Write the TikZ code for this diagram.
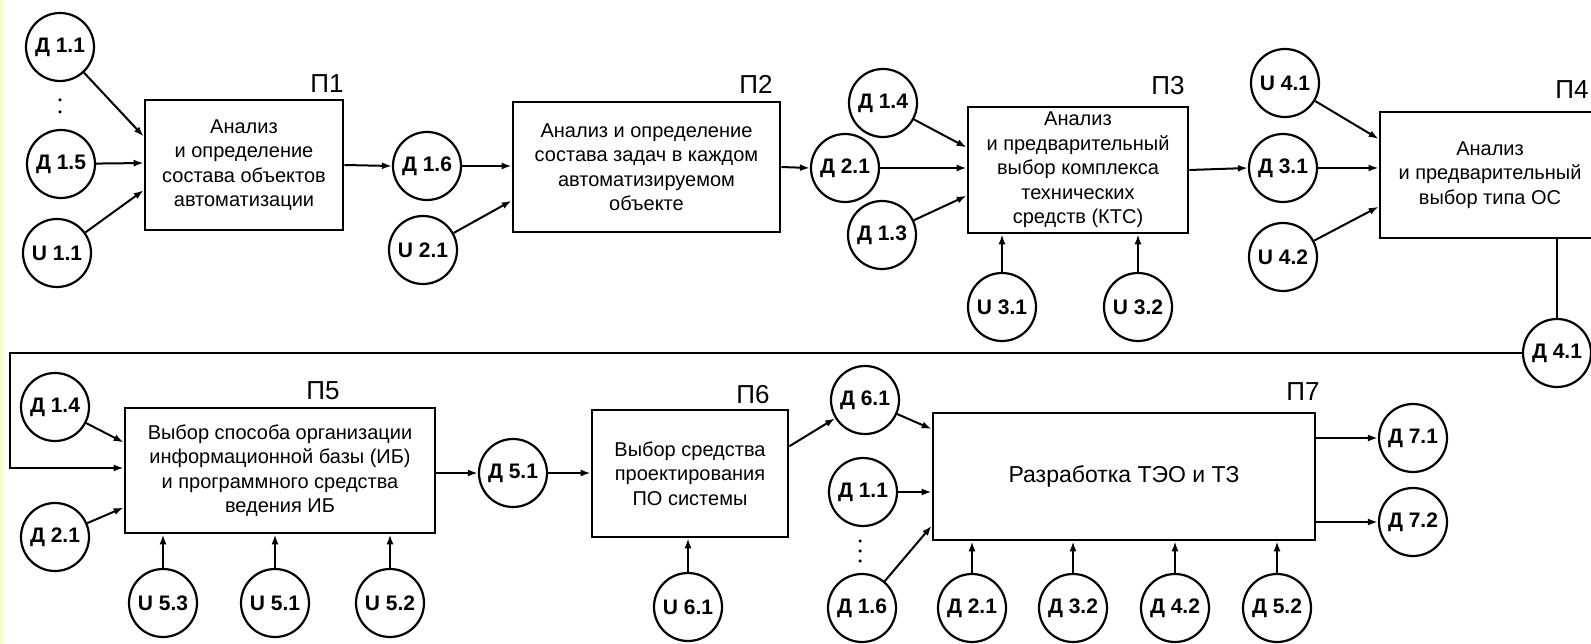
\documentclass[tikz,border=0pt]{standalone}
\usepackage{fontspec}
\setmainfont{Liberation Sans}
\usetikzlibrary{arrows.meta,calc}
\begin{document}
\begin{tikzpicture}[x=1pt,y=-1pt,
  proc/.style={draw,line width=2.6pt,align=center,inner sep=2pt,font=\fontsize{20}{24.5}\selectfont},
  dat/.style={draw,circle,line width=2.2pt,minimum size=68pt,inner sep=0pt,font=\bfseries\fontsize{21}{24}\selectfont},
  lab/.style={font=\fontsize{26}{28}\selectfont},
  arr/.style={line width=2pt,-{Latex[length=10pt,width=7pt]}},
  ln/.style={line width=2pt},
  vdot/.style={circle,fill,inner sep=0pt,minimum size=3.5pt}]
\useasboundingbox (0,0) rectangle (1591,644);
\clip (0,0) rectangle (1591,644);
\fill[white] (0,0) rectangle (1591,644);
\fill[green!20!yellow!25] (0,0) rectangle (2.5,644);

% ---------- boxes ----------
\node[proc,minimum width=198pt,minimum height=130pt] (p1) at (244,165)
  {Анализ\\и определение\\состава объектов\\автоматизации};
\node[proc,minimum width=267pt,minimum height=130pt] (p2) at (646.5,167)
  {Анализ и определение\\состава задач в каждом\\автоматизируемом\\объекте};
\node[proc,minimum width=220pt,minimum height=126pt] (p3) at (1078,170)
  {Анализ\\и предварительный\\выбор комплекса\\технических\\средств (КТС)};
\node[proc,minimum width=220pt,minimum height=126pt] (p4) at (1490,175)
  {Анализ\\и предварительный\\выбор типа ОС};
\node[proc,minimum width=310pt,minimum height=125pt] (p5) at (280,470.5)
  {Выбор способа организации\\информационной базы (ИБ)\\и программного средства\\ведения ИБ};
\node[proc,minimum width=196pt,minimum height=127pt] (p6) at (690,473.5)
  {Выбор средства\\проектирования\\ПО системы};
\node[proc,minimum width=382pt,minimum height=127pt,font=\fontsize{23}{26}\selectfont] (p7) at (1124,476.5)
  {Разработка ТЭО и ТЗ};

% ---------- labels ----------
\node[lab] (l1) at (327,84) {П1};
\node[lab] (l2) at (756,84) {П2};
\node[lab] (l3) at (1168,86) {П3};
\node[lab] (l4) at (1572,90) {П4};
\node[lab] (l5) at (323,391) {П5};
\node[lab] (l6) at (753,395) {П6};
\node[lab] (l7) at (1303,392) {П7};

% ---------- data circles, top row ----------
\node[dat] (d11) at (60,47) {Д 1.1};
\node[vdot] (dots1a) at (60,100) {};
\node[vdot] (dots1b) at (60,112) {};
\node[dat] (d15) at (61,164) {Д 1.5};
\node[dat] (u11) at (57,253) {U 1.1};
\node[dat] (d16) at (427,166) {Д 1.6};
\node[dat] (u21) at (423,250) {U 2.1};
\node[dat] (d14) at (883,103) {Д 1.4};
\node[dat] (d21) at (845,168) {Д 2.1};
\node[dat] (d13) at (882,235) {Д 1.3};
\node[dat] (u31) at (1002,307) {U 3.1};
\node[dat] (u32) at (1138,307) {U 3.2};
\node[dat] (u41) at (1285,83) {U 4.1};
\node[dat] (d31) at (1283,168) {Д 3.1};
\node[dat] (u42) at (1283,257) {U 4.2};
\node[dat] (d41) at (1557,353) {Д 4.1};

% ---------- data circles, bottom row ----------
\node[dat] (d14b) at (55,407) {Д 1.4};
\node[dat] (d21b) at (55,537) {Д 2.1};
\node[dat] (u53) at (163,603) {U 5.3};
\node[dat] (u51) at (275,603) {U 5.1};
\node[dat] (u52) at (390,603) {U 5.2};
\node[dat] (d51) at (513,473) {Д 5.1};
\node[dat] (u61) at (688,607) {U 6.1};
\node[dat] (d61) at (865,400) {Д 6.1};
\node[dat] (d11b) at (863,492) {Д 1.1};
\node[vdot] (dots2a) at (860,541) {};
\node[vdot] (dots2b) at (860,551) {};
\node[vdot] (dots2c) at (860,561) {};
\node[dat] (d16b) at (862,608) {Д 1.6};
\node[dat] (d21c) at (972,608) {Д 2.1};
\node[dat] (d32) at (1073,608) {Д 3.2};
\node[dat] (d42) at (1175,608) {Д 4.2};
\node[dat] (d52) at (1277,608) {Д 5.2};
\node[dat] (d71) at (1413,438) {Д 7.1};
\node[dat] (d72) at (1413,522) {Д 7.2};

\coordinate (retx) at (10,0);

% ---------- connectors: P1 ----------
\draw[arr] (d11) -- ($(p1.north west)!0.285!(p1.south west)$);
\draw[arr] (d15) -- ($(p1.north west)!0.485!(p1.south west)$);
\draw[arr] (u11) -- ($(p1.north west)!0.69!(p1.south west)$);
\draw[arr] (p1.east) -- (d16.west);
% P2
\draw[arr] (d16.east) -- (p2.west |- d16.east);
\draw[arr] (u21) -- ($(p2.north west)!0.754!(p2.south west)$);
\draw[arr] (p2.east) -- (d21.west);
% P3
\draw[arr] (d14) -- ($(p3.north west)!0.325!(p3.south west)$);
\draw[arr] (d21.east) -- (p3.west |- d21.east);
\draw[arr] (d13) -- ($(p3.north west)!0.70!(p3.south west)$);
\draw[arr] (u31.north) -- (u31.north |- p3.south);
\draw[arr] (u32.north) -- (u32.north |- p3.south);
\draw[arr] (p3.east) -- (d31.west);
% P4
\draw[arr] (u41) -- ($(p4.north west)!0.22!(p4.south west)$);
\draw[arr] (d31.east) -- (p4.west |- d31.east);
\draw[arr] (u42) -- ($(p4.north west)!0.746!(p4.south west)$);
\draw[ln] (d41.north |- p4.south) -- (d41.north);
% return line to P5
\draw[arr] (d41.west) -- (d41.west -| retx) |- ($(p5.north west)!0.48!(p5.south west)$);
% P5
\draw[arr] (d14b) -- ($(p5.north west)!0.28!(p5.south west)$);
\draw[arr] (d21b) -- ($(p5.north west)!0.79!(p5.south west)$);
\draw[arr] (u53.north) -- (u53.north |- p5.south);
\draw[arr] (u51.north) -- (u51.north |- p5.south);
\draw[arr] (u52.north) -- (u52.north |- p5.south);
\draw[arr] (p5.east |- d51.west) -- (d51.west);
% P6
\draw[arr] (d51.east) -- (p6.west |- d51.east);
\draw[arr] (u61.north) -- (u61.north |- p6.south);
\draw[arr] ($(p6.north east)!0.29!(p6.south east)$) -- (d61);
% P7
\draw[arr] (d61) -- ($(p7.north west)!0.134!(p7.south west)$);
\draw[arr] (d11b.east) -- (p7.west |- d11b.east);
\draw[arr] (d16b) -- ($(p7.north west)!0.88!(p7.south west)$);
\draw[arr] (d21c.north) -- (d21c.north |- p7.south);
\draw[arr] (d32.north) -- (d32.north |- p7.south);
\draw[arr] (d42.north) -- (d42.north |- p7.south);
\draw[arr] (d52.north) -- (d52.north |- p7.south);
\draw[arr] (p7.east |- d71.west) -- (d71.west);
\draw[arr] (p7.east |- d72.west) -- (d72.west);
\end{tikzpicture}
\end{document}
